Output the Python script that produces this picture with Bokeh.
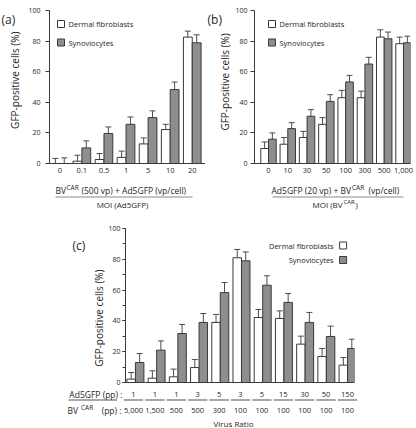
import math
from bokeh.plotting import figure
from bokeh.layouts import column, row
from bokeh.models import Range1d, FixedTicker, SingleIntervalTicker
from bokeh.core.properties import value
from bokeh.embed import file_html
from bokeh.resources import INLINE

# ---------------- data ----------------
a_labels = ["0", "0.1", "0.5", "1", "5", "10", "20"]
a_dermal = [0.0, 1.5, 2.6, 4.0, 12.8, 22.2, 82.6]
a_dermal_err = [3.3, 3.9, 3.9, 4.1, 3.9, 3.4, 3.9]
a_synov = [0.0, 10.2, 19.6, 25.6, 30.0, 48.3, 78.9]
a_synov_err = [3.7, 4.6, 4.3, 4.8, 4.4, 4.9, 5.2]

b_labels = ["0", "10", "30", "50", "100", "300", "500", "1,000"]
b_dermal = [9.8, 12.6, 17.0, 25.6, 43.0, 43.0, 82.6, 78.3]
b_dermal_err = [4.3, 4.4, 4.0, 4.4, 4.8, 4.3, 4.8, 4.3]
b_synov = [15.9, 22.8, 30.9, 40.6, 53.3, 65.0, 81.5, 78.9]
b_synov_err = [4.1, 3.9, 4.3, 4.4, 4.3, 4.4, 4.4, 4.3]

c_ad5gfp = ["1", "1", "1", "3", "5", "3", "5", "15", "30", "50", "150"]
c_bvcar = ["5,000", "1,500", "500", "500", "300", "100", "100", "100", "100", "100", "100"]
c_dermal = [2.2, 2.8, 3.7, 9.7, 39.0, 81.0, 42.2, 41.6, 24.9, 16.9, 11.3]
c_dermal_err = [4.3, 4.8, 5.0, 5.2, 5.2, 5.4, 5.2, 4.9, 5.2, 5.2, 4.9]
c_synov = [13.0, 21.0, 31.8, 39.0, 58.4, 79.0, 63.2, 52.0, 39.0, 29.9, 22.1]
c_synov_err = [5.8, 6.0, 5.9, 5.8, 6.5, 5.8, 6.1, 5.8, 6.5, 6.7, 6.0]

series_names = ["Dermal fibroblasts", "Synoviocytes"]
y_label = "GFP-positive cells (%)"

# ---------------- style ----------------
FONT = "Open Sans"
TXT = "#262626"
GRAY = "#8e8e8e"
EDGE = "#3a3a3a"
ULINE = "#8a8a8a"
BAR_W = 0.4
TICK_FS = "7.5px"


def base_fig(w, h, xr, yr, **kw):
    p = figure(width=w, height=h, x_range=xr, y_range=yr, output_backend="svg",
               toolbar_location=None, **kw)
    p.outline_line_color = None
    p.title.visible = False
    p.background_fill_color = "white"
    p.border_fill_color = "white"
    return p


def put_text(p, x, y, txt, size="8.5px", align="left", baseline="middle", angle=0.0):
    p.text(x=[x], y=[y], text=[txt], text_font=value(FONT),
           text_font_size=value(size), text_color=TXT, text_align=align,
           text_baseline=baseline, angle=angle)


class Panel:
    """Plot with real axes; helpers convert page pixels to data values."""

    def __init__(self, page_left, page_top, w, h, frame_left, frame_right,
                 frame_top, frame_bottom, xr, minor, xlabels_on_axis=True):
        self.fl = frame_left
        self.fb = frame_bottom
        self.x0 = xr[0]
        self.ppx = (frame_right - frame_left) / (xr[1] - xr[0])
        self.ppy = (frame_bottom - frame_top) / 100.0
        self.xlabels_on_axis = xlabels_on_axis
        p = base_fig(w, h, Range1d(*xr), Range1d(0, 100),
                     min_border_left=frame_left - page_left,
                     min_border_right=page_left + w - frame_right,
                     min_border_top=frame_top - page_top,
                     min_border_bottom=page_top + h - frame_bottom)
        p.grid.visible = False
        ya = p.yaxis[0]
        ya.ticker = SingleIntervalTicker(interval=20, num_minor_ticks=2 if minor else 0)
        ya.axis_line_color = EDGE
        ya.major_tick_line_color = EDGE
        ya.minor_tick_line_color = EDGE if minor else None
        ya.major_tick_in = 0
        ya.major_tick_out = 4
        ya.minor_tick_in = 0
        ya.minor_tick_out = 3
        ya.major_label_text_font = FONT
        ya.major_label_text_font_size = "7px"
        ya.major_label_text_color = TXT
        xa = p.xaxis[0]
        xa.axis_line_color = EDGE
        xa.major_tick_line_color = None
        xa.minor_tick_line_color = None
        xa.major_tick_in = 0
        xa.major_tick_out = 0
        xa.major_label_text_font = FONT
        xa.major_label_text_color = TXT
        xa.major_label_text_font_size = TICK_FS
        xa.major_label_standoff = 4 if xlabels_on_axis else 0
        self.p = p

    def X(self, page_x):
        return self.x0 + (page_x - self.fl) / self.ppx

    def Y(self, page_y):
        return (self.fb - page_y) / self.ppy

    def bars(self, labels, dermal, derr, synov, serr):
        n = len(labels)
        xs = list(range(n))
        xd = [x - BAR_W / 2 for x in xs]
        xsy = [x + BAR_W / 2 for x in xs]
        p = self.p
        p.vbar(x=xd, top=dermal, bottom=0, width=BAR_W, fill_color="white",
               line_color=EDGE, line_width=1)
        p.vbar(x=xsy, top=synov, bottom=0, width=BAR_W, fill_color=GRAY,
               line_color=EDGE, line_width=1)
        for xx, vv, ee in ((xd, dermal, derr), (xsy, synov, serr)):
            tops = [v + e for v, e in zip(vv, ee)]
            p.segment(x0=xx, y0=vv, x1=xx, y1=tops, line_color=EDGE, line_width=0.9)
            p.scatter(x=xx, y=tops, marker="dash", size=6, line_color=EDGE,
                      line_width=0.9)
        xa = p.xaxis[0]
        if self.xlabels_on_axis:
            xa.ticker = FixedTicker(ticks=xs)
            xa.major_label_overrides = {i: lab for i, lab in enumerate(labels)}
        else:
            xa.ticker = FixedTicker(ticks=[])

    def legend_item(self, box_x, page_y, fill, label, text_x, align):
        self.p.scatter(x=[self.X(box_x)], y=[self.Y(page_y)], marker="square",
                       size=7, fill_color=fill, line_color=EDGE, line_width=1)
        put_text(self.p, self.X(text_x), self.Y(page_y), label, size="7.5px",
                 align=align)


class TextFig:
    """Axis-less strip for text outside a plot frame; y is page-pixel based."""

    def __init__(self, page_left, page_top, w, h, to_x=lambda v: v):
        self.to_x = to_x
        self.p = base_fig(w, h, Range1d(to_x(page_left), to_x(page_left + w)),
                          Range1d(page_top + h, page_top), min_border=0,
                          x_axis_location=None, y_axis_location=None)
        self.p.xgrid.visible = False
        self.p.ygrid.visible = False

    def text(self, page_x, page_y, txt, **kw):
        put_text(self.p, self.to_x(page_x), page_y, txt, **kw)

    def hline(self, x0, x1, page_y, color=ULINE, width=1.2):
        self.p.segment(x0=[self.to_x(x0)], y0=[page_y], x1=[self.to_x(x1)],
                       y1=[page_y], line_color=color, line_width=width)


# ---------------- panel (a) ----------------
A = Panel(24, 0, 181, 180, 49, 205, 10, 163, (-0.467, 6.60), minor=False)
A.bars(a_labels, a_dermal, a_dermal_err, a_synov, a_synov_err)
A.p.yaxis[0].major_label_standoff = 5
A.legend_item(60.5, 23.5, "white", series_names[0], 68, "left")
A.legend_item(60.5, 42, GRAY, series_names[1], 68, "left")

LA = TextFig(0, 0, 24, 180)
LA.text(1, 0.5, "(a)", size="12px", baseline="top")
LA.text(14, 82, y_label, size="10px", align="center", angle=math.pi / 2)

TA = TextFig(0, 180, 205, 30, A.X)
TA.text(55, 189.5, "BV")
TA.text(66, 186.5, "CAR", size="6.5px")
TA.text(81, 189.5, "(500 vp)  +  Ad5GFP (vp/cell)")
TA.hline(55, 192, 196.5)
TA.text(122, 203.5, "MOI (Ad5GFP)", size="8px", align="center")

# ---------------- panel (b) ----------------
B = Panel(232, 0, 184, 180, 254, 410, 10, 163, (-0.726, 7.363), minor=False)
B.bars(b_labels, b_dermal, b_dermal_err, b_synov, b_synov_err)
B.p.yaxis[0].major_label_standoff = 3
B.legend_item(271.5, 23.5, "white", series_names[0], 279, "left")
B.legend_item(271.5, 42, GRAY, series_names[1], 279, "left")

LB = TextFig(205, 0, 27, 180)
LB.text(207, 0.5, "(b)", size="12px", baseline="top")
LB.text(224.5, 84, y_label, size="10px", align="center", angle=math.pi / 2)

TB = TextFig(205, 180, 211, 30, B.X)
TB.text(271, 189.5, "Ad5GFP (20 vp) + BV")
TB.text(351.5, 186.5, "CAR", size="6.5px")
TB.text(368, 189.5, "(vp/cell)")
TB.hline(272, 403, 196.5)
TB.text(312, 203.5, "MOI (BV", size="8px")
TB.text(343, 201, "CAR", size="6px")
TB.text(355, 203.5, ")", size="8px")

# ---------------- panel (c) ----------------
C = Panel(105, 210, 311, 177, 123, 354, 228, 382, (-0.467, 10.327), minor=True,
          xlabels_on_axis=False)
C.bars(c_ad5gfp, c_dermal, c_dermal_err, c_synov, c_synov_err)
C.p.yaxis[0].major_tick_out = 3
C.p.yaxis[0].major_label_standoff = 2
C.legend_item(342.5, 245, "white", series_names[0], 333, "right")
C.legend_item(342.5, 259.5, GRAY, series_names[1], 333, "right")

LC = TextFig(0, 210, 105, 177)
LC.text(72, 229, "(c)", size="12px")
LC.text(98, 313, y_label, size="10px", align="center", angle=math.pi / 2)

TC = TextFig(0, 387, 416, 40, C.X)
groups_c = list(range(len(c_ad5gfp)))
ROW1, ULY, ROW2 = 393.5, 399.5, 409.5
TC.p.text(x=groups_c, y=[ROW1] * len(groups_c), text=c_ad5gfp,
          text_font=value(FONT), text_font_size=value(TICK_FS), text_color=TXT,
          text_align="center", text_baseline="middle")
TC.text(122, ROW1, "Ad5GFP (pp) :", align="right")
TC.hline(68, 116.5, ULY, color=TXT, width=0.8)
TC.p.segment(x0=[g - 0.45 for g in groups_c], y0=[ULY] * len(groups_c),
             x1=[g + 0.45 for g in groups_c], y1=[ULY] * len(groups_c),
             line_color=ULINE, line_width=1.6)
TC.text(67, ROW2, "BV")
TC.text(80.5, ROW2 - 3, "CAR", size="6.5px")
TC.text(121, ROW2, "(pp) :", align="right")
TC.p.text(x=groups_c, y=[ROW2] * len(groups_c), text=c_bvcar,
          text_font=value(FONT), text_font_size=value(TICK_FS), text_color=TXT,
          text_align="center", text_baseline="middle")
TC.text(233, 422.5, "Virus Ratio", size="8px", align="center")

top = row(column(row(LA.p, A.p), TA.p), column(row(LB.p, B.p), TB.p))
bottom = column(row(LC.p, C.p), TC.p)
layout = column(top, bottom)
open("out.html", "w").write(file_html(layout, INLINE))
